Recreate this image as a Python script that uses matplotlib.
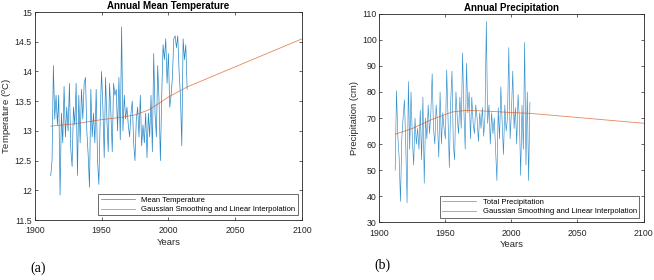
import matplotlib
matplotlib.use("Agg")
import matplotlib.pyplot as plt
import numpy as np

plt.rcParams['font.family'] = ['Liberation Sans', 'DejaVu Sans']

temp_years = list(range(1912, 2015))
temp_values = [12.25, 12.5, 14.1, 13.2, 13.6, 13.1, 13.6, 11.92, 13.3, 12.8,
               13.75, 12.9, 13.4, 13.0, 13.8, 12.7, 12.4, 13.4, 13.1, 13.8,
               12.25, 13.6, 12.8, 13.7, 13.2, 13.8, 13.9, 13.0, 12.6, 12.05,
               13.7, 12.9, 13.3, 12.8, 13.7, 12.5, 12.1, 13.2, 14.0, 13.4,
               12.55, 13.9, 13.2, 12.65, 13.8, 13.3, 12.65, 13.8, 13.6, 13.7,
               13.0, 13.9, 12.85, 14.75, 13.0, 13.6, 13.2, 13.4, 13.1, 12.9,
               13.3, 13.5, 12.8, 12.5, 13.2, 13.4, 12.9, 13.6, 12.75, 13.1,
               12.8, 13.3, 12.55, 13.3, 12.9, 13.6, 12.65, 14.3, 13.3, 12.9,
               14.1, 13.5, 12.5, 13.6, 14.45, 14.2, 14.55, 13.8, 14.3, 13.4,
               13.6, 13.9, 14.55, 14.6, 14.4, 14.6, 14.0, 13.6, 12.75, 14.55,
               14.2, 14.45, 13.7]

temp_trend_years = [1912, 1930, 1950, 1965, 1975, 1985, 1992, 2000, 2014, 2100]
temp_trend_values = [13.08, 13.12, 13.19, 13.23, 13.27, 13.35, 13.45, 13.57, 13.74, 14.55]

prec_years = list(range(1912, 2015))
prec_values = [50, 80.5, 63, 55, 38, 62, 70, 77, 60, 37.5,
               84, 58, 80, 62, 52, 70, 60, 66, 58, 73,
               54, 78, 45, 70, 62, 75, 64, 72, 87, 66,
               60, 75, 68, 55, 80, 60, 72, 66, 62, 88.5,
               70, 51, 76, 88, 60, 54, 80, 70, 64, 78,
               66, 95, 73, 58, 91, 72, 80, 62, 78, 68,
               64, 75, 70, 61, 72, 66, 74, 63, 71, 107,
               68, 75, 60, 72, 64, 70, 58, 46, 74, 62,
               82, 68, 56, 75, 65, 70, 97, 62, 72, 88,
               66, 74, 60, 79, 70, 48, 75, 58, 99, 52,
               80, 46, 76]

prec_trend_years = [1912, 1925, 1940, 1955, 1965, 1975, 1990, 2000, 2014, 2100]
prec_trend_values = [63.8, 66.0, 69.5, 72.3, 72.9, 72.8, 72.4, 72.1, 71.8, 68.0]

xticks = [1900, 1950, 2000, 2050, 2100]

blue = '#0072BD'
orange = '#D95319'

fig = plt.figure(figsize=(6.54, 2.8), dpi=100)

def style(ax):
    for s in ax.spines.values():
        s.set_color('#262626')
        s.set_linewidth(0.6)
    ax.tick_params(direction='in', top=True, right=True, labelsize=6.3,
                   length=2.5, width=0.5, colors='#262626')
    ax.tick_params(axis='x', pad=4.5)
    ax.tick_params(axis='y', pad=2)
    ax.set_xlim(1900, 2100)
    ax.set_xticks(xticks)

ax1 = fig.add_axes([0.053, 0.214, 0.409, 0.743])
ax1.plot(temp_years, temp_values, color=blue, lw=0.5, alpha=0.85, label='Mean Temperature')
ax1.plot(temp_trend_years, temp_trend_values, color=orange, lw=0.6, alpha=0.7,
         label='Gaussian Smoothing and Linear Interpolation')
style(ax1)
ax1.set_ylim(11.5, 15)
ax1.set_yticks([11.5, 12, 12.5, 13, 13.5, 14, 14.5, 15])
ax1.set_yticklabels(['11.5', '12', '12.5', '13', '13.5', '14', '14.5', '15'])
ax1.set_title('Annual Mean Temperature', fontsize=7, fontweight='bold', pad=2)
ax1.set_xlabel('Years', fontsize=6.8, labelpad=2, color='#262626')
ax1.set_ylabel('Temperature ($^{o}$C)', fontsize=6.8, color='#262626')
ax1.yaxis.set_label_coords(-0.078, 0.5)
leg1 = ax1.legend(loc='lower right', fontsize=5.5, frameon=True, fancybox=False,
                  edgecolor='#262626', borderaxespad=0.6, handlelength=4.5,
                  borderpad=0.3, labelspacing=0.3)
leg1.get_frame().set_linewidth(0.6)

ax2 = fig.add_axes([0.580, 0.206, 0.404, 0.745])
ax2.plot(prec_years, prec_values, color=blue, lw=0.45, alpha=0.8, label='Total Precipitation')
ax2.plot(prec_trend_years, prec_trend_values, color=orange, lw=0.6, alpha=0.7,
         label='Gaussian Smoothing and Linear Interpolation')
style(ax2)
ax2.set_ylim(30, 110)
ax2.set_yticks(range(30, 111, 10))
ax2.set_title('Annual Precipitation', fontsize=7, fontweight='bold', pad=2)
ax2.set_xlabel('Years', fontsize=6.8, labelpad=2, color='#262626')
ax2.set_ylabel('Precipitation (cm)', fontsize=6.8, color='#262626')
ax2.yaxis.set_label_coords(-0.076, 0.5)
leg2 = ax2.legend(loc='lower right', fontsize=5.5, frameon=True, fancybox=False,
                  edgecolor='#262626', borderaxespad=0.6, handlelength=4.5,
                  borderpad=0.3, labelspacing=0.3)
leg2.get_frame().set_linewidth(0.6)

fig.text(0.046, 0.03, '(a)', fontsize=10, family='Liberation Serif')
fig.text(0.573, 0.04, '(b)', fontsize=10, family='Liberation Serif')

fig.savefig('out.png', dpi=100)
